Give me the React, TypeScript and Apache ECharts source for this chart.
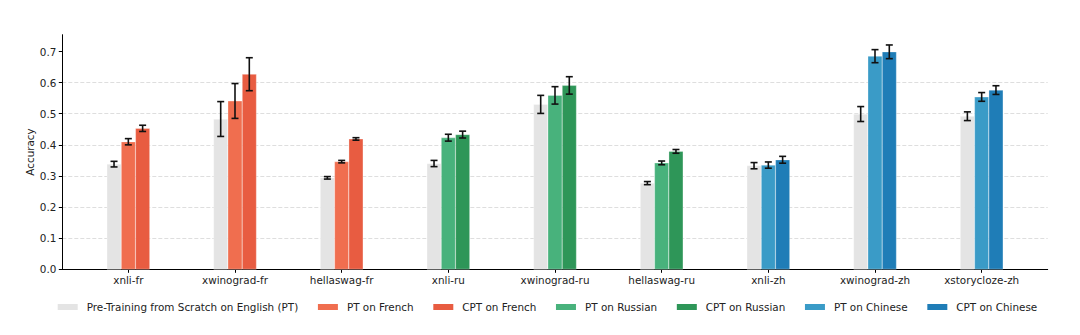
import React, { useEffect, useRef } from "react";
import * as echarts from "echarts";

const categories = [
  "xnli-fr", "xwinograd-fr", "hellaswag-fr",
  "xnli-ru", "xwinograd-ru", "hellaswag-ru",
  "xnli-zh", "xwinograd-zh", "xstorycloze-zh",
];
const languageOfCategory = ["French", "French", "French", "Russian", "Russian", "Russian", "Chinese", "Chinese", "Chinese"];
const languages = ["French", "Russian", "Chinese"];

const baselineValues = [0.338, 0.483, 0.294, 0.340, 0.530, 0.277, 0.333, 0.499, 0.492];
const baselineErr = [0.009, 0.056, 0.004, 0.010, 0.029, 0.005, 0.010, 0.024, 0.014];
const ptValues = [0.410, 0.541, 0.346, 0.423, 0.559, 0.342, 0.335, 0.685, 0.554];
const ptErr = [0.010, 0.056, 0.004, 0.011, 0.028, 0.006, 0.010, 0.021, 0.014];
const cptValues = [0.453, 0.627, 0.419, 0.433, 0.591, 0.379, 0.352, 0.699, 0.576];
const cptErr = [0.010, 0.053, 0.004, 0.011, 0.028, 0.006, 0.011, 0.022, 0.014];

const yTicks = [0, 0.1, 0.2, 0.3, 0.4, 0.5, 0.6, 0.7];

const baselineName = "Pre-Training from Scratch on English (PT)";
const baselineColor = "#e4e4e4";
const ptColors: Record<string, string> = { French: "#f06e4f", Russian: "#48b27c", Chinese: "#3a9bc7" };
const cptColors: Record<string, string> = { French: "#e85c41", Russian: "#2e9658", Chinese: "#1f7db7" };

const FONT = "DejaVu Sans";
const FS = 10.4;
const BAR_W = 14.3;

export default function App() {
  const ref = useRef<HTMLDivElement>(null);
  useEffect(() => {
    if (!ref.current) return;
    const chart = echarts.init(ref.current, undefined, { renderer: "svg" });

    const barStyle = (color: string) => ({ color, borderColor: "#ffffff", borderWidth: 0.3 });

    const barSeries: any[] = [
      {
        name: baselineName,
        type: "bar",
        xAxisIndex: 1,
        yAxisIndex: 1,
        data: baselineValues,
        barWidth: BAR_W,
        barGap: "0%",
        itemStyle: barStyle(baselineColor),
      },
    ];
    languages.forEach((lang) => {
      barSeries.push({
        name: "PT on " + lang,
        type: "bar",
        stack: "pt",
        xAxisIndex: 1,
        yAxisIndex: 1,
        data: ptValues.map((v, i) => (languageOfCategory[i] === lang ? v : "-")),
        barWidth: BAR_W,
        barGap: "0%",
        itemStyle: barStyle(ptColors[lang]),
      });
      barSeries.push({
        name: "CPT on " + lang,
        type: "bar",
        stack: "cpt",
        xAxisIndex: 1,
        yAxisIndex: 1,
        data: cptValues.map((v, i) => (languageOfCategory[i] === lang ? v : "-")),
        barWidth: BAR_W,
        barGap: "0%",
        itemStyle: barStyle(cptColors[lang]),
      });
    });

    const errData: any[] = [];
    categories.forEach((_, i) => {
      errData.push([i, 0, baselineValues[i], baselineErr[i]]);
      errData.push([i, 1, ptValues[i], ptErr[i]]);
      errData.push([i, 2, cptValues[i], cptErr[i]]);
    });

    const errSeries = {
      type: "custom",
      xAxisIndex: 1,
      yAxisIndex: 1,
      z: 10,
      silent: true,
      encode: { x: 0, y: 2 },
      data: errData,
      renderItem: (params: any, api: any) => {
        const cat = api.value(0);
        const slot = api.value(1);
        const v = api.value(2);
        const e = api.value(3);
        const top = api.coord([cat, v + e]);
        const bot = api.coord([cat, v - e]);
        const x = top[0] + (slot - 1) * BAR_W;
        const cap = 3.5;
        const style = { stroke: "#111111", lineWidth: 1.6 };
        return {
          type: "group",
          children: [
            { type: "line", shape: { x1: x, y1: top[1], x2: x, y2: bot[1] }, style },
            { type: "line", shape: { x1: x - cap, y1: top[1], x2: x + cap, y2: top[1] }, style },
            { type: "line", shape: { x1: x - cap, y1: bot[1], x2: x + cap, y2: bot[1] }, style },
          ],
        };
      },
    };

    const yMax = 0.754;

    chart.setOption({
      animation: false,
      textStyle: { fontFamily: FONT },
      grid: [
        { left: 62.3, right: 32.3, top: 34.7, bottom: 65.7 },
        { left: 75, right: 45, top: 34.7, bottom: 65.7 },
      ],
      legend: {
        data: [baselineName, ...languages.flatMap((l) => ["PT on " + l, "CPT on " + l])],
        left: 55.7,
        top: 302,
        padding: 0,
        itemWidth: 22,
        itemHeight: 8,
        itemGap: 17.7,
        icon: "rect",
        textStyle: { fontFamily: FONT, fontSize: FS, color: "#222", padding: [0, 0, 0, 3] },
        selectedMode: false,
      },
      xAxis: [
        {
          gridIndex: 0,
          type: "value",
          min: 0,
          max: 1,
          axisLine: { show: true, lineStyle: { color: "#000", width: 1 } },
          axisTick: { show: false },
          axisLabel: { show: false },
          splitLine: { show: false },
        },
        {
          gridIndex: 1,
          type: "category",
          data: categories,
          axisLine: { show: false },
          axisTick: { show: true, alignWithLabel: true, length: 3.5, lineStyle: { color: "#000", width: 1 } },
          axisLabel: { fontFamily: FONT, fontSize: FS, color: "#222", margin: 6, interval: 0 },
          splitLine: { show: false },
        },
      ],
      yAxis: [
        {
          gridIndex: 0,
          type: "value",
          min: 0,
          max: yMax,
          interval: 0.1,
          name: "Accuracy",
          nameLocation: "middle",
          nameGap: 27,
          nameMoveOverlap: false,
          nameTextStyle: { fontFamily: FONT, fontSize: FS, color: "#222" },
          axisLine: { show: true, lineStyle: { color: "#000", width: 1 } },
          axisTick: { show: true, length: 3.5, lineStyle: { color: "#000", width: 1 }, customValues: yTicks },
          axisLabel: {
            fontFamily: FONT,
            fontSize: FS,
            color: "#222",
            margin: 6,
            customValues: yTicks,
            formatter: (v: number) => (Math.abs(v * 10 - Math.round(v * 10)) < 1e-6 ? v.toFixed(1) : ""),
          },
          splitLine: {
            show: true,
            showMinLine: false,
            showMaxLine: false,
            lineStyle: { color: "#d6d6d6", width: 0.8, type: [4, 2] },
          },
        },
        {
          gridIndex: 1,
          type: "value",
          min: 0,
          max: yMax,
          show: false,
          splitLine: { show: false },
        },
      ],
      series: [...barSeries, errSeries],
    });

    return () => chart.dispose();
  }, []);

  return (
    <div
      ref={ref}
      style={{ position: "absolute", left: 0, top: 0, width: 1080, height: 335, background: "#fff" }}
    />
  );
}
